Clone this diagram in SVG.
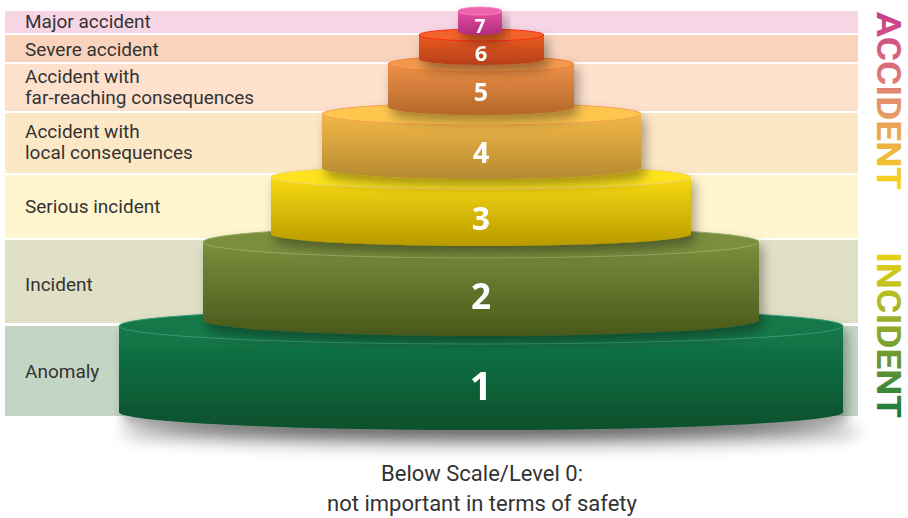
<svg xmlns="http://www.w3.org/2000/svg" width="908" height="518" viewBox="0 0 908 518">
<defs>
<style>
.lbl{font-family:Roboto,"Liberation Sans",sans-serif;font-size:19px;fill:#333}
.num{font-family:"Open Sans","Liberation Sans",sans-serif;font-weight:700;fill:#fff;text-anchor:middle}
.big{font-family:Roboto,"Liberation Sans",sans-serif;font-weight:700;font-size:33px}
.foot{font-family:Roboto,"Liberation Sans",sans-serif;font-size:22px;fill:#333;text-anchor:middle}
</style>
<filter id="sh" x="-20%" y="-30%" width="140%" height="180%">
<feDropShadow dx="4" dy="7" stdDeviation="6" flood-color="#000" flood-opacity="0.35"/>
</filter>
<filter id="blur" x="-20%" y="-100%" width="140%" height="300%"><feGaussianBlur stdDeviation="8"/></filter>
<linearGradient id="g1" x1="0" y1="0" x2="0" y2="1"><stop offset="0" stop-color="#147a4a"/><stop offset="1" stop-color="#08502c"/></linearGradient>
<linearGradient id="g2" x1="0" y1="0" x2="0" y2="1"><stop offset="0" stop-color="#7b8f3e"/><stop offset="1" stop-color="#485819"/></linearGradient>
<linearGradient id="g3" x1="0" y1="0" x2="0" y2="1"><stop offset="0" stop-color="#f7da10"/><stop offset="1" stop-color="#b89a00"/></linearGradient>
<linearGradient id="g4" x1="0" y1="0" x2="0" y2="1"><stop offset="0" stop-color="#f2b848"/><stop offset="1" stop-color="#b58a30"/></linearGradient>
<linearGradient id="g5" x1="0" y1="0" x2="0" y2="1"><stop offset="0" stop-color="#ee9048"/><stop offset="1" stop-color="#b3682a"/></linearGradient>
<linearGradient id="g6" x1="0" y1="0" x2="0" y2="1"><stop offset="0" stop-color="#ea5a22"/><stop offset="1" stop-color="#b53f18"/></linearGradient>
<linearGradient id="g7" x1="0" y1="0" x2="0" y2="1"><stop offset="0" stop-color="#e64fa2"/><stop offset="1" stop-color="#b02c7c"/></linearGradient>
<linearGradient id="ga" x1="0" y1="0" x2="1" y2="0"><stop offset="0" stop-color="#c93a8c"/><stop offset="0.5" stop-color="#e4906c"/><stop offset="1" stop-color="#f6d616"/></linearGradient>
<linearGradient id="gi" x1="0" y1="0" x2="1" y2="0"><stop offset="0" stop-color="#ead416"/><stop offset="0.5" stop-color="#86a630"/><stop offset="1" stop-color="#1a783c"/></linearGradient>
</defs>

<g id="bands">
<rect x="5" y="11" width="853" height="22" fill="#f8d5e5"/>
<rect x="5" y="35" width="853" height="27" fill="#fad3bc"/>
<rect x="5" y="64" width="853" height="47" fill="#fde1cc"/>
<rect x="5" y="113" width="853" height="60" fill="#fde8c6"/>
<rect x="5" y="175" width="853" height="63" fill="#fff5cf"/>
<rect x="5" y="240" width="853" height="83" fill="#dfe0c6"/>
<rect x="5" y="326" width="853" height="90" fill="#c3d6c4"/>
<text class="lbl" x="25" y="28">Major accident</text>
<text class="lbl" x="25" y="56">Severe accident</text>
<text class="lbl" x="25" y="83">Accident with</text>
<text class="lbl" x="25" y="104">far-reaching consequences</text>
<text class="lbl" x="25" y="138">Accident with</text>
<text class="lbl" x="25" y="159">local consequences</text>
<text class="lbl" x="25" y="213">Serious incident</text>
<text class="lbl" x="25" y="291">Incident</text>
<text class="lbl" x="25" y="378">Anomaly</text>
</g>

<ellipse cx="490" cy="432" rx="370" ry="14" fill="#000" opacity="0.35" filter="url(#blur)"/>

<g id="level1" filter="url(#sh)">
<path d="M119,326 L119,412 A362,18 0 0 0 843,412 L843,326 Z" fill="url(#g1)"/>
<ellipse cx="481" cy="326" rx="362" ry="18" fill="#137849" stroke="#3a9a7a" stroke-width="1"/>
<text class="num" x="481" y="400" font-size="39">1</text>
</g>

<g id="level2" filter="url(#sh)">
<path d="M203,242 L203,320 A278,16 0 0 0 759,320 L759,242 Z" fill="url(#g2)"/>
<ellipse cx="481" cy="242" rx="278" ry="16" fill="#7a8e3e" stroke="#9aaa66" stroke-width="1"/>
<text class="num" x="481" y="309" font-size="35">2</text>
</g>

<g id="level3" filter="url(#sh)">
<path d="M271,177 L271,234 A210,12 0 0 0 691,234 L691,177 Z" fill="url(#g3)"/>
<ellipse cx="481" cy="177" rx="210" ry="12" fill="#fde21c" stroke="#f0d470" stroke-width="1"/>
<text class="num" x="481" y="230" font-size="32">3</text>
</g>

<g id="level4" filter="url(#sh)">
<path d="M322,114 L322,168 A159.5,11 0 0 0 641,168 L641,114 Z" fill="url(#g4)"/>
<ellipse cx="481.5" cy="114" rx="159.5" ry="11" fill="#fec64e" stroke="#f5a050" stroke-width="1"/>
<text class="num" x="481" y="163" font-size="29">4</text>
</g>

<g id="level5" filter="url(#sh)">
<path d="M388,64 L388,107 A93,8 0 0 0 574,107 L574,64 Z" fill="url(#g5)"/>
<ellipse cx="481" cy="64" rx="93" ry="8" fill="#f39a4e" stroke="#f07e30" stroke-width="1"/>
<text class="num" x="481" y="101" font-size="25">5</text>
</g>

<g id="level6" filter="url(#sh)">
<path d="M419,35 L419,59 A62.5,6 0 0 0 544,59 L544,35 Z" fill="url(#g6)"/>
<ellipse cx="481.5" cy="35" rx="62.5" ry="6" fill="#f2642a" stroke="#ff2a1a" stroke-width="1"/>
<text class="num" x="481" y="61" font-size="22">6</text>
</g>

<g id="level7" filter="url(#sh)">
<path d="M458,11 L458,31 A22,4 0 0 0 502,31 L502,11 Z" fill="url(#g7)"/>
<ellipse cx="480" cy="11" rx="22" ry="4" fill="#f062ae" stroke="#f58ac0" stroke-width="0.8"/>
<text class="num" x="480" y="33" font-size="19">7</text>
</g>

<g id="side-labels">
<text class="big" transform="translate(877,12) rotate(90)" fill="url(#ga)" textLength="178" lengthAdjust="spacingAndGlyphs">ACCIDENT</text>
<text class="big" transform="translate(877,252) rotate(90)" fill="url(#gi)" textLength="166" lengthAdjust="spacingAndGlyphs">INCIDENT</text>
</g>

<g id="footer">
<text class="foot" x="482" y="481">Below Scale/Level 0:</text>
<text class="foot" x="482" y="511">not important in terms of safety</text>
</g>
</svg>
